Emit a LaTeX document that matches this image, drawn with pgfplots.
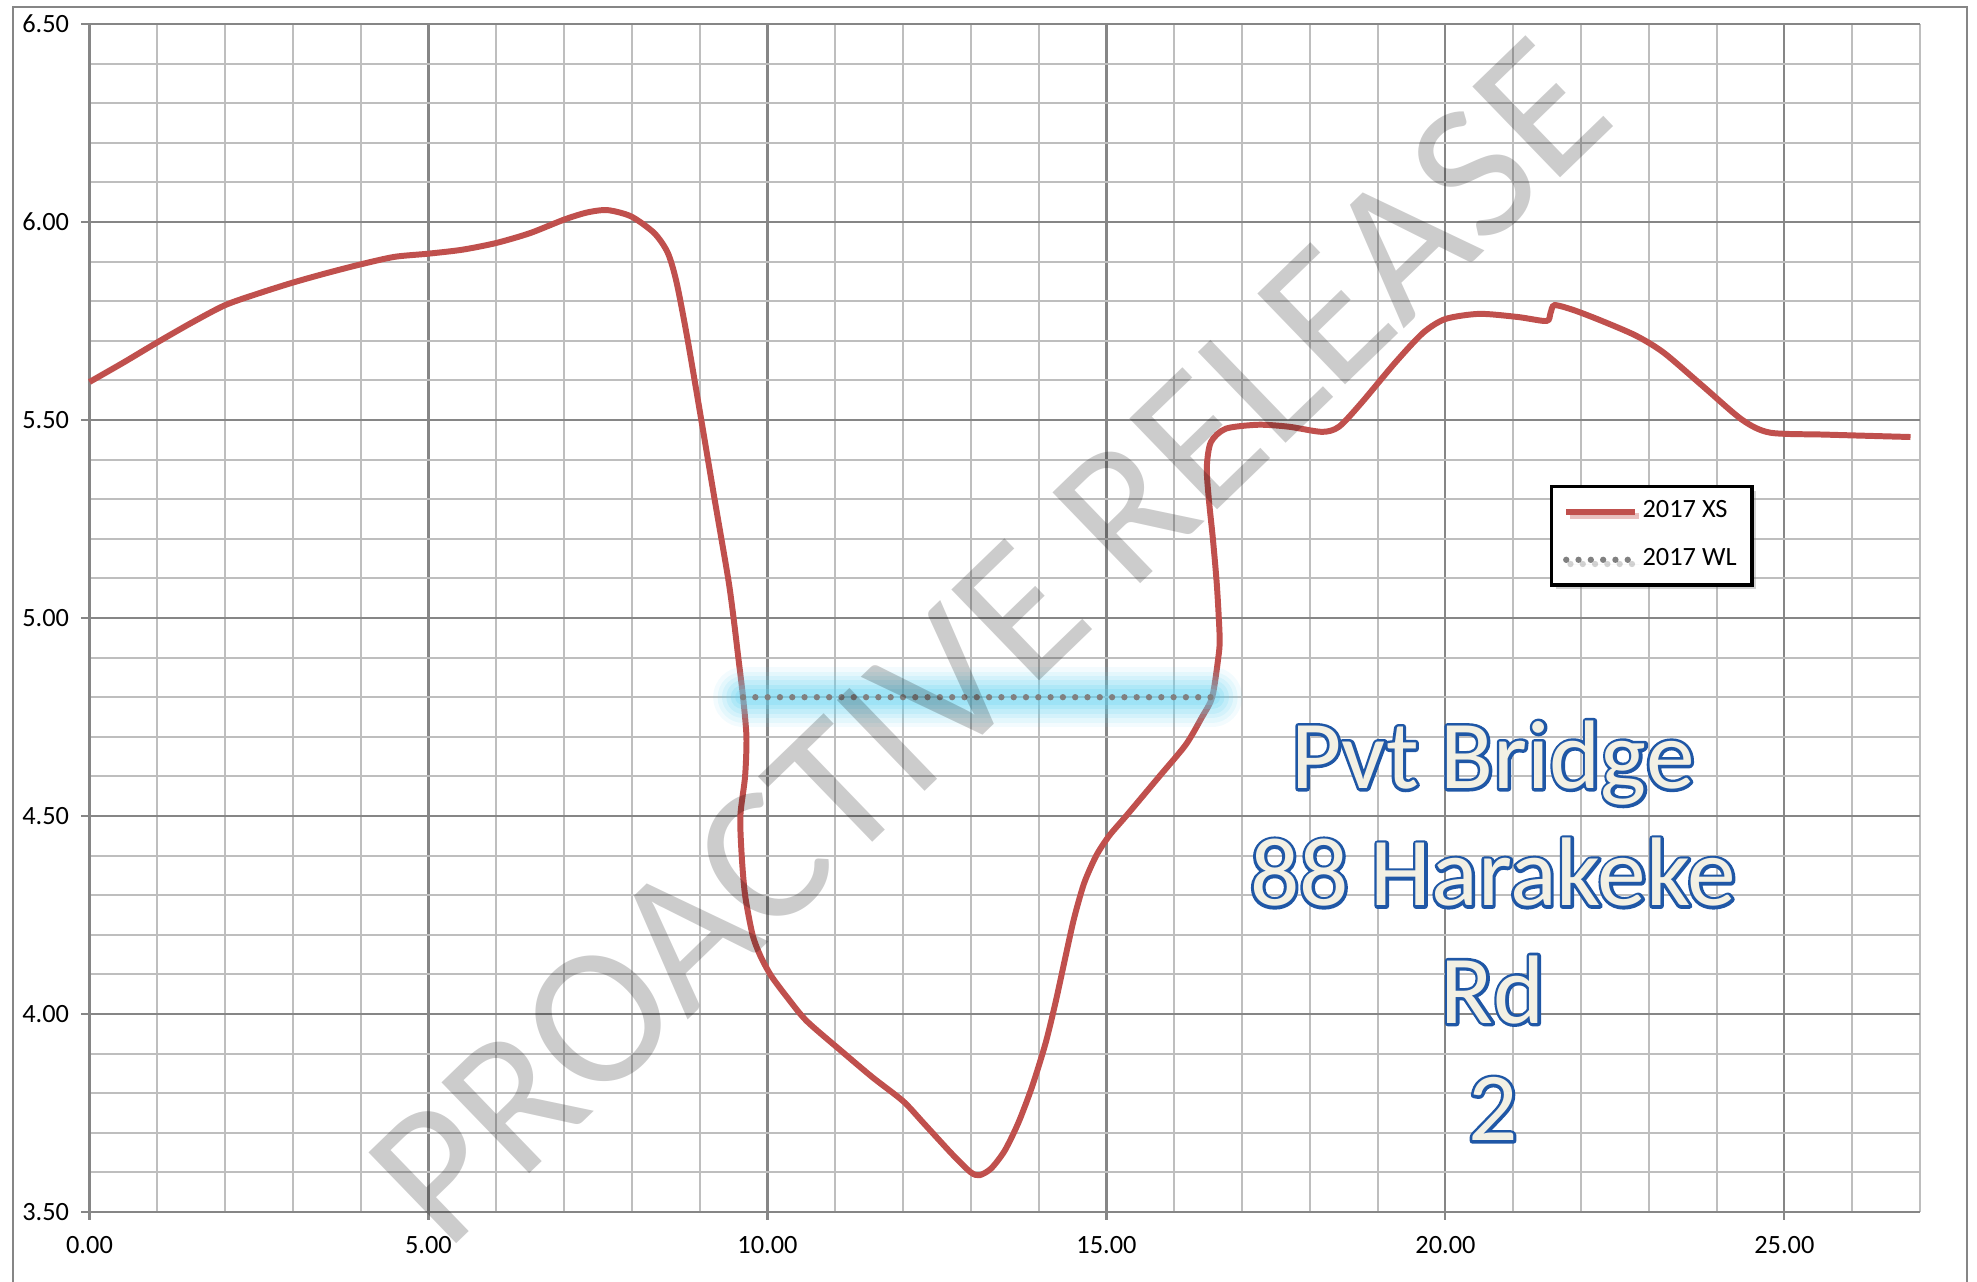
\documentclass[border=0pt]{standalone}
\usepackage{fontspec}
\setmainfont{Carlito}
\usepackage{pgfplots}
\pgfplotsset{compat=1.18}
\usetikzlibrary{shadows}

\definecolor{xsred}{RGB}{192,80,77}
\definecolor{wlgray}{RGB}{128,128,128}
\definecolor{glow}{RGB}{100,210,240}
\definecolor{gridmajor}{RGB}{134,134,134}
\definecolor{gridminor}{RGB}{190,190,190}
\definecolor{cream}{RGB}{242,240,228}
\definecolor{outlineblue}{RGB}{31,87,166}

% outlined text: a blue stroke (text render mode 1) under a cream fill
\newcommand{\outlined}[1]{%
  \rlap{\color{outlineblue}\special{pdf:literal direct 1 Tr 1.7 w 1 j}#1\special{pdf:literal direct 0 Tr}}%
  {\color{cream}#1}}

\begin{document}
\begin{tikzpicture}
  \begin{axis}[
    at={(0,0)}, anchor=south west,
    scale only axis,
    width=18.305cm, height=11.88cm,
    xmin=0, xmax=27, ymin=3.5, ymax=6.5,
    axis x line=bottom, axis y line=left,
    axis line style={-, gridmajor, line width=0.7pt},
    xtick={0,5,...,25},
    ytick={3.5,4,4.5,5,5.5,6,6.5},
    minor xtick={0,1,...,27},
    minor ytick={3.6,3.7,3.8,3.9,4.1,4.2,4.3,4.4,4.6,4.7,4.8,4.9,5.1,5.2,5.3,5.4,5.6,5.7,5.8,5.9,6.1,6.2,6.3,6.4},
    xmajorgrids, ymajorgrids, xminorgrids, yminorgrids,
    major grid style={gridmajor, line width=0.6pt},
    minor grid style={gridminor, line width=0.55pt},
    tick align=outside,
    major tick length=0.08cm,
    minor tick length=0pt,
    tick style={gridmajor, line width=0.6pt},
    tick label style={font=\fontsize{7.5}{9}\selectfont, text=black},
    xticklabel style={yshift=-1pt},
    /pgf/number format/assume math mode=true,
    /pgf/number format/.cd, fixed, fixed zerofill, precision=2,
    /pgfplots/.cd,
    clip=false,
    legend style={
      at={(0.798,0.612)}, anchor=north west,
      draw=black, line width=0.9pt, fill=white,
      font=\fontsize{7.5}{9}\selectfont,
      inner xsep=3.2pt, inner ysep=2pt,
      row sep=3.3pt,
      nodes={inner xsep=1.2pt},
      drop shadow={shadow xshift=1.2pt, shadow yshift=-1.2pt, opacity=0.35},
    },
    legend cell align={left},
    legend image code/.code={\draw[#1] (0cm,0cm) -- (0.69cm,0cm);},
  ]
    % 2017 cross section
    \addplot[xsred, line width=1.7pt, smooth, tension=0.45] coordinates {
      (0.00,5.596) (0.50,5.645) (1.00,5.696) (1.50,5.745) (2.00,5.790)
      (2.50,5.820) (3.00,5.847) (3.50,5.871) (4.00,5.893) (4.50,5.912)
      (5.00,5.920) (5.50,5.930) (6.00,5.947) (6.50,5.972) (7.00,6.006)
      (7.34,6.024) (7.64,6.030) (7.99,6.014) (8.33,5.972) (8.53,5.922)
      (8.66,5.847) (8.82,5.705) (9.02,5.504) (9.22,5.300) (9.42,5.100)
      (9.50,5.000) (9.57,4.900) (9.64,4.800) (9.69,4.700) (9.67,4.600)
      (9.60,4.500) (9.62,4.400) (9.67,4.300) (9.78,4.200) (9.90,4.145)
      (10.06,4.095) (10.30,4.040) (10.58,3.982) (11.10,3.905) (11.55,3.840)
      (12.00,3.780) (12.30,3.725) (12.73,3.645) (13.00,3.600) (13.13,3.593)
      (13.30,3.610) (13.50,3.655) (13.70,3.725) (13.90,3.815) (14.10,3.925)
      (14.25,4.030) (14.39,4.140) (14.52,4.240) (14.67,4.330) (14.85,4.400)
      (15.04,4.450) (15.29,4.500) (15.78,4.600) (16.17,4.680) (16.41,4.750)
      (16.56,4.800) (16.65,4.900) (16.67,4.950) (16.63,5.080) (16.57,5.200)
      (16.51,5.300) (16.48,5.380) (16.54,5.444) (16.76,5.478) (17.24,5.488)
      (17.69,5.483) (18.18,5.470) (18.43,5.483) (18.76,5.543) (19.26,5.645)
      (19.67,5.720) (20.00,5.755) (20.50,5.768) (21.07,5.760) (21.49,5.750)
      (21.55,5.770) (21.61,5.790) (21.90,5.777) (22.31,5.750) (22.81,5.713)
      (23.22,5.670) (23.80,5.585) (24.38,5.500) (24.79,5.468) (25.62,5.463)
      (26.86,5.457)
    };
    \addlegendentry{2017 XS}
    % glow behind the water level
    \addplot[forget plot, glow, line width=17pt, line cap=round, opacity=0.08] coordinates {(9.64,4.80) (16.56,4.80)};
    \addplot[forget plot, glow, line width=14.5pt, line cap=round, opacity=0.1] coordinates {(9.64,4.80) (16.56,4.80)};
    \addplot[forget plot, glow, line width=12pt, line cap=round, opacity=0.13] coordinates {(9.64,4.80) (16.56,4.80)};
    \addplot[forget plot, glow, line width=9.5pt, line cap=round, opacity=0.16] coordinates {(9.64,4.80) (16.56,4.80)};
    \addplot[forget plot, glow, line width=7pt, line cap=round, opacity=0.2] coordinates {(9.64,4.80) (16.56,4.80)};
    \addplot[forget plot, glow, line width=4.5pt, line cap=round, opacity=0.22] coordinates {(9.64,4.80) (16.56,4.80)};
    % 2017 water level
    \addplot[wlgray, line width=1.8pt, line cap=round, dash pattern=on 0pt off 3.5pt] coordinates {
      (9.64,4.80) (16.56,4.80)
    };
    \addlegendentry{2017 WL}

    \node[align=center, font=\fontsize{27.7}{33.4}\selectfont]
      at (axis cs:20.7,4.21)
      {\outlined{Pvt Bridge}\\ \outlined{88 Harakeke}\\ \outlined{Rd}\\ \outlined{2}};
    \node[text=black, text opacity=0.2, rotate=44, font=\fontsize{56}{60}\selectfont]
      at (axis cs:13.27,4.94) {PROACTIVE RELEASE};
  \end{axis}
  \draw[gridmajor, line width=0.5pt] (-0.765,-0.8) -- (-0.765,12.05) -- (18.775,12.05) -- (18.775,-0.8);
  \pgfresetboundingbox
  \useasboundingbox (-0.895,-0.70) rectangle (18.875,12.12);
\end{tikzpicture}
\end{document}
